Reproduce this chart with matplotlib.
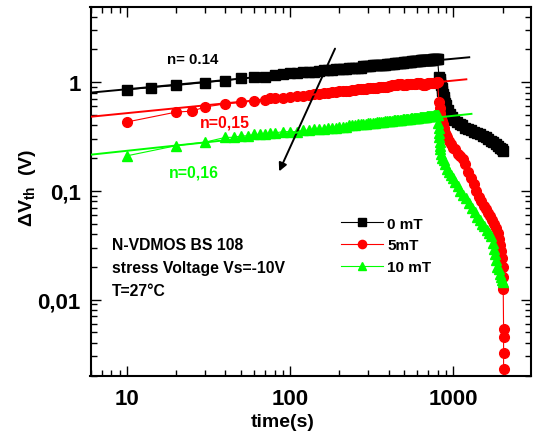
import matplotlib
matplotlib.use("Agg")
import matplotlib.pyplot as plt
from matplotlib.ticker import FixedLocator, LogLocator, NullFormatter

plt.rcParams['font.family'] = ['Liberation Sans', 'DejaVu Sans']
plt.rcParams['mathtext.fontset'] = 'custom'
plt.rcParams['mathtext.rm'] = 'Liberation Sans:bold'
plt.rcParams['mathtext.it'] = 'Liberation Sans:bold'
plt.rcParams['mathtext.bf'] = 'Liberation Sans:bold'
plt.rcParams['mathtext.default'] = 'rm'

# ---------------- data ----------------
# stress phase: sparse early points, then one reading every 10 s from 100 s to 800 s
t_dense = list(range(100, 801, 10))

t_black_early = [10, 14, 20, 30, 40, 50, 60, 70, 80, 90]
v_black_early = [0.85, 0.89, 0.93, 0.99, 1.03, 1.08, 1.11, 1.12, 1.17, 1.19]
v_black_dense = [1.20, 1.21, 1.23, 1.24, 1.25, 1.27, 1.28, 1.29, 1.30, 1.31,
                 1.31, 1.32, 1.33, 1.34, 1.35, 1.35, 1.36, 1.36, 1.39, 1.40,
                 1.41, 1.41, 1.42, 1.42, 1.43, 1.43, 1.44, 1.45, 1.45, 1.46,
                 1.47, 1.47, 1.48, 1.48, 1.49, 1.49, 1.50, 1.50, 1.51, 1.51,
                 1.52, 1.52, 1.53, 1.53, 1.54, 1.54, 1.55, 1.55, 1.56, 1.56,
                 1.57, 1.57, 1.57, 1.58, 1.58, 1.58, 1.59, 1.59, 1.59, 1.60,
                 1.60, 1.60, 1.61, 1.61, 1.61, 1.62, 1.62, 1.62, 1.63, 1.63,
                 1.63]
t_black_rec = [815, 822, 830, 838, 845, 852, 860, 870, 880, 890, 900, 925, 950, 980, 1010, 1050,
               1090, 1130, 1180, 1230, 1280, 1340, 1400, 1460, 1520, 1580, 1640, 1700, 1760,
               1820, 1880, 1940, 1980, 2000]
v_black_rec = [1.12, 1.06, 1.00, 0.94, 0.88, 0.83, 0.78, 0.73, 0.68, 0.64, 0.61, 0.55, 0.51, 0.48,
               0.45, 0.43, 0.41, 0.40, 0.38, 0.37, 0.36, 0.35, 0.34, 0.33, 0.32, 0.31, 0.30, 0.29,
               0.28, 0.27, 0.26, 0.25, 0.24, 0.23]

t_red_early = [10, 20, 25, 30, 40, 50, 60, 70, 75, 80, 90]
v_red_early = [0.43, 0.53, 0.54, 0.59, 0.63, 0.65, 0.67, 0.69, 0.72, 0.71, 0.72]
v_red_dense = [0.73, 0.74, 0.75, 0.76, 0.77, 0.78, 0.79, 0.80, 0.81, 0.81,
               0.82, 0.82, 0.83, 0.83, 0.84, 0.85, 0.86, 0.86, 0.87, 0.87,
               0.88, 0.88, 0.89, 0.89, 0.89, 0.90, 0.90, 0.91, 0.91, 0.91,
               0.92, 0.92, 0.93, 0.93, 0.93, 0.94, 0.95, 0.96, 0.95, 0.94,
               0.94, 0.94, 0.95, 0.95, 0.95, 0.96, 0.96, 0.96, 0.96, 0.96,
               0.97, 0.97, 0.97, 0.96, 0.95, 0.94, 0.93, 0.93, 0.95, 0.96,
               0.97, 0.97, 0.97, 0.98, 0.98, 0.98, 0.99, 0.99, 0.99, 1.00,
               1.00]
t_red_rec = [815, 822, 830, 840, 850, 860, 870, 880, 890, 900, 910, 935, 960, 990, 1020, 1060,
             1100, 1140, 1180, 1230, 1280, 1330, 1380, 1430, 1480, 1530, 1580, 1630, 1680, 1730,
             1780, 1830, 1870, 1910, 1940, 1970, 1990, 2000, 2010, 2020, 2030, 2030, 2030, 2030]
v_red_rec = [0.66, 0.58, 0.52, 0.47, 0.44, 0.41, 0.38, 0.36, 0.34, 0.325, 0.31, 0.29, 0.27, 0.25,
             0.24, 0.22, 0.21, 0.195, 0.175, 0.15, 0.13, 0.115, 0.10, 0.088, 0.080, 0.073, 0.068,
             0.063, 0.059, 0.054, 0.050, 0.045, 0.041, 0.036, 0.032, 0.028, 0.024, 0.020, 0.016,
             0.0126, 0.0054, 0.0045, 0.0032, 0.0023]

t_green_early = [10, 20, 30, 40, 45, 50, 55, 60, 65, 70, 75, 80, 90]
v_green_early = [0.21, 0.26, 0.28, 0.31, 0.31, 0.32, 0.32, 0.33, 0.33, 0.33, 0.34, 0.34, 0.35]
v_green_dense = [0.35, 0.35, 0.36, 0.36, 0.37, 0.37, 0.37, 0.38, 0.38, 0.38,
                 0.39, 0.39, 0.39, 0.40, 0.40, 0.40, 0.41, 0.41, 0.41, 0.41,
                 0.42, 0.42, 0.42, 0.42, 0.43, 0.43, 0.43, 0.43, 0.44, 0.44,
                 0.44, 0.44, 0.44, 0.45, 0.45, 0.45, 0.45, 0.45, 0.45, 0.46,
                 0.46, 0.46, 0.46, 0.46, 0.46, 0.47, 0.47, 0.47, 0.47, 0.47,
                 0.47, 0.47, 0.48, 0.48, 0.48, 0.48, 0.48, 0.48, 0.48, 0.49,
                 0.49, 0.49, 0.49, 0.49, 0.49, 0.49, 0.50, 0.50, 0.50, 0.50,
                 0.50]
t_green_rec = [808, 812, 815, 818, 822, 826, 830, 840, 855, 870, 890, 910, 935, 960, 990, 1020,
               1060, 1100, 1150, 1200, 1250, 1300, 1350, 1400, 1450, 1500, 1550, 1600, 1650,
               1700, 1740, 1770, 1800, 1830, 1860, 1890, 1920, 1950, 1980, 2000]
v_green_rec = [0.42, 0.38, 0.34, 0.31, 0.28, 0.26, 0.24, 0.22, 0.20, 0.19, 0.175, 0.16, 0.15, 0.14,
               0.13, 0.12, 0.11, 0.10, 0.092, 0.085, 0.077, 0.070, 0.064, 0.058, 0.054, 0.050,
               0.047, 0.044, 0.041, 0.038, 0.033, 0.029, 0.026, 0.023, 0.020, 0.019, 0.017, 0.016,
               0.015, 0.0145]

# power-law fit lines (end points)
fit_t_black = [6, 1250]
fit_v_black = [0.80, 1.69]
fit_t_red = [6, 1200]
fit_v_red = [0.48, 1.06]
fit_t_green = [6, 1290]
fit_v_green = [0.215, 0.51]

labels = ['0 mT', '5mT', '10 mT']
x_ticks = [10, 100, 1000]
x_ticklabels = ['10', '100', '1000']
y_ticks = [0.01, 0.1, 1]
y_ticklabels = ['0,01', '0,1', '1']

BLACK = '#000000'
RED = '#ff0000'
GREEN = '#00ff00'

# ---------------- figure ----------------
L, R, B, T = 90.5, 531.0, 377.0, 8.0
W, H = 535.0, 439.0
fig = plt.figure(figsize=(W / 100, H / 100), dpi=100)
ax = fig.add_axes([L / W, 1 - B / H, (R - L) / W, (B - T) / H])
ax.set_xscale('log')
ax.set_yscale('log')
ax.set_xlim(5.95, 2990)
ax.set_ylim(0.00198, 4.9)


def afx(px):
    return (px - L) / (R - L)


def afy(py):
    return (B - py) / (B - T)


# fit lines
ax.plot(fit_t_black, fit_v_black, color=BLACK, lw=1.4, zorder=4)
ax.plot(fit_t_red, fit_v_red, color=RED, lw=1.4, zorder=4)
ax.plot(fit_t_green, fit_v_green, color=GREEN, lw=1.4, zorder=4)

# data
ax.plot(t_black_early + t_dense + t_black_rec, v_black_early + v_black_dense + v_black_rec,
        color=BLACK, lw=0.8, marker='s', ms=6.5, mec=BLACK, mfc=BLACK, label=labels[0], zorder=3)
ax.plot(t_red_early + t_dense + t_red_rec, v_red_early + v_red_dense + v_red_rec,
        color=RED, lw=0.8, marker='o', ms=7, mec=RED, mfc=RED, label=labels[1], zorder=3)
ax.plot(t_green_early + t_dense + t_green_rec, v_green_early + v_green_dense + v_green_rec,
        color=GREEN, lw=0.8, marker='^', ms=7.5, mec=GREEN, mfc=GREEN, label=labels[2], zorder=3)

# arrow
ax.annotate('', xy=(84, 0.143), xytext=(191, 2.14),
            arrowprops=dict(arrowstyle='-|>', color=BLACK, lw=1.4, mutation_scale=12))

# n labels
ax.text(17.6, 1.63, 'n= 0.14', color=BLACK, fontsize=10.8, fontweight='bold', va='center')
ax.text(28, 0.43, 'n=0,15', color=RED, fontsize=11.4, fontweight='bold', va='center')
ax.text(17.9, 0.15, 'n=0,16', color=GREEN, fontsize=11.4, fontweight='bold', va='center')

# info text
fs_info = 11.3
ax.text(afx(112), afy(245), 'N-VDMOS BS 108', transform=ax.transAxes,
        fontsize=fs_info, fontweight='bold', va='center')
ax.text(afx(112), afy(268), 'stress Voltage Vs=-10V', transform=ax.transAxes,
        fontsize=fs_info, fontweight='bold', va='center')
ax.text(afx(112), afy(291), 'T=27°C', transform=ax.transAxes,
        fontsize=fs_info, fontweight='bold', va='center')

# legend
leg = ax.legend(loc='upper left', bbox_to_anchor=(afx(330), afy(207)),
                frameon=False, fontsize=11, handlelength=2.8, handletextpad=0.25,
                labelspacing=0.5, borderpad=0.2, markerscale=0.85)
for txt in leg.get_texts():
    txt.set_fontweight('bold')

# ticks
ax.xaxis.set_major_locator(FixedLocator(x_ticks))
ax.set_xticklabels(x_ticklabels)
ax.yaxis.set_major_locator(FixedLocator(y_ticks))
ax.set_yticklabels(y_ticklabels)
ax.xaxis.set_minor_locator(LogLocator(base=10, subs=range(2, 10), numticks=20))
ax.yaxis.set_minor_locator(LogLocator(base=10, subs=range(2, 10), numticks=20))
ax.xaxis.set_minor_formatter(NullFormatter())
ax.yaxis.set_minor_formatter(NullFormatter())
ax.tick_params(which='both', direction='in', top=True, right=True, width=1.0)
ax.tick_params(which='major', length=7)
ax.tick_params(which='minor', length=4)
ax.tick_params(axis='both', which='major', labelsize=16)
ax.tick_params(axis='x', which='major', pad=9)
ax.tick_params(axis='y', which='major', pad=7)
for lab in ax.get_xticklabels() + ax.get_yticklabels():
    lab.set_fontweight('bold')
for sp in ax.spines.values():
    sp.set_linewidth(1.5)

ax.set_xlabel('time(s)', fontsize=14, fontweight='bold')
ax.xaxis.set_label_coords(afx(283), afy(414))
ax.set_ylabel('ΔV$_{th}$  (V)', fontsize=14, fontweight='bold')
ax.yaxis.set_label_coords(afx(38), afy(188))

fig.savefig('out.png', dpi=100)
